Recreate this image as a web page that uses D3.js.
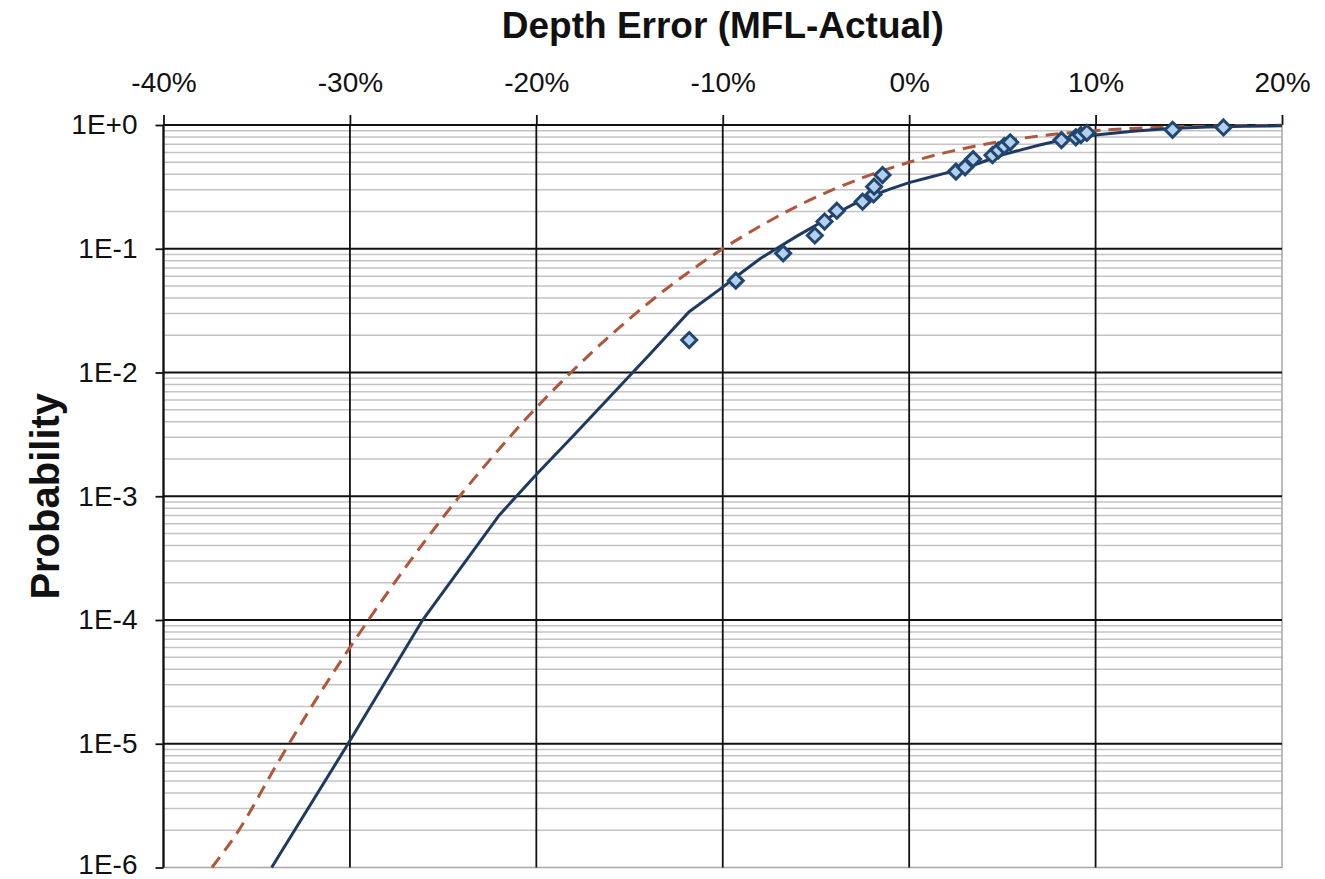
<!DOCTYPE html>
<html>
<head>
<meta charset="utf-8">
<script src="https://cdn.jsdelivr.net/npm/d3@7"></script>
<style>
  body { margin: 0; background: white; }
  text { font-family: "Liberation Sans", Arial, sans-serif; }
</style>
</head>
<body>
<div id="chart"></div>
<script>
// tick values and labels
var xTicks = [-40, -30, -20, -10, 0, 10, 20];
var yTicks = [1, 1e-1, 1e-2, 1e-3, 1e-4, 1e-5, 1e-6];
var yTickLabels = ["1E+0", "1E-1", "1E-2", "1E-3", "1E-4", "1E-5", "1E-6"];

// measured points (depth error %, probability)
var pointX = [-11.8, -9.3, -6.76, -5.06, -4.54, -3.88, -2.50, -1.91, -1.88, -1.43,
              2.51, 3.00, 3.43, 4.47, 4.79, 5.10, 5.42, 8.17, 8.94, 9.21, 9.53, 14.13, 16.86];
var pointP = [0.0183, 0.0552, 0.0918, 0.128, 0.166, 0.203, 0.240, 0.275, 0.317, 0.394,
              0.42, 0.455, 0.53, 0.57, 0.625, 0.675, 0.725, 0.755, 0.795, 0.83, 0.865, 0.915, 0.955];

// fitted curve (solid)
var fitX = [-34.2, -30.1, -26.1, -22.0, -20.0, -18.0, -16.0, -14.0, -11.8, -10.0, -9.0, -8.0, -7.0,
            -6.0, -5.0, -4.0, -3.0, -2.0, -1.0, 0.0, 1.0, 2.0, 3.0, 4.0, 5.0, 6.0, 7.0, 8.0, 9.0,
            10.0, 12.0, 14.0, 16.0, 18.0, 20.0];
var fitP = [1e-6, 1e-5, 1e-4, 7.0e-4, 1.5e-3, 3.1e-3, 6.5e-3, 1.36e-2, 3.1e-2, 4.9e-2, 6.4e-2, 8.3e-2, 0.103,
            0.127, 0.155, 0.19, 0.228, 0.267, 0.305, 0.342, 0.375, 0.41, 0.447, 0.507, 0.573, 0.63, 0.69, 0.745, 0.79,
            0.83, 0.89, 0.935, 0.962, 0.975, 0.985];

// reference curve (dashed)
var refX = [-37.4, -36, -34, -32, -30, -28, -26, -24, -22, -20, -18, -16, -14, -12, -10, -8, -6, -4, -2,
            0, 2, 4, 6, 8, 10, 12, 14, 16, 18, 20];
var refP = [1e-6, 1.96e-6, 6.5e-6, 2.06e-5, 6.0e-5, 1.65e-4, 4.3e-4, 1.05e-3, 2.4e-3, 5.2e-3, 1.05e-2, 2.01e-2,
            3.63e-2, 6.2e-2, 0.1, 0.152, 0.221, 0.304, 0.399, 0.5, 0.601, 0.696, 0.779, 0.848, 0.9, 0.938, 0.964,
            0.98, 0.9895, 0.9948];

function main() {
    var margin = {top: 125, right: 43, bottom: 11.5, left: 163.5},
    width = 1325 - margin.left - margin.right,
    height = 879 - margin.top - margin.bottom;

    var xScale = d3.scaleLinear().domain([-40, 20]).range([0, width]);
    var yScale = d3.scaleLog().domain([1e-6, 1]).range([height, 0]);

    var root = d3.select("#chart").append("svg")
        .attr("width", 1325)
        .attr("height", 879);

    var svg = root.append("g")
        .attr("transform", "translate(" + margin.left + "," + margin.top + ")");

    // minor gridlines 2..9 x 10^k
    var minor = [];
    for (var k = -6; k < 0; k++) {
        for (var m = 2; m <= 9; m++) minor.push(m * Math.pow(10, k));
    }
    svg.append("g")
        .selectAll("line")
        .data(minor)
        .join("line")
        .attr("x1", 0).attr("x2", width)
        .attr("y1", d => yScale(d)).attr("y2", d => yScale(d))
        .attr("stroke", "#c3c3c3")
        .attr("stroke-width", 1.5);

    // plot border (grey)
    svg.append("rect")
        .attr("width", width)
        .attr("height", height)
        .attr("fill", "none")
        .attr("stroke", "#a6a6a6")
        .attr("stroke-width", 1.5);

    // major gridlines
    svg.append("g")
        .selectAll("line")
        .data(yTicks.filter(d => d > 1e-6))
        .join("line")
        .attr("x1", 0).attr("x2", width)
        .attr("y1", d => yScale(d)).attr("y2", d => yScale(d))
        .attr("stroke", "#111")
        .attr("stroke-width", 1.8);

    svg.append("g")
        .selectAll("line")
        .data(xTicks.filter(d => d < 20))
        .join("line")
        .attr("x1", d => xScale(d)).attr("x2", d => xScale(d))
        .attr("y1", 0).attr("y2", height)
        .attr("stroke", "#111")
        .attr("stroke-width", 1.8);

    // axes
    var xAxis = svg.append("g")
        .call(d3.axisTop(xScale).tickValues(xTicks).tickSize(10).tickPadding(23)
            .tickFormat(d => d + "%"));
    var yAxis = svg.append("g")
        .call(d3.axisLeft(yScale).tickValues(yTicks).tickSize(8).tickPadding(18)
            .tickFormat((d, i) => yTickLabels[i]));

    [xAxis, yAxis].forEach(function(a) {
        a.select(".domain").remove();
        a.selectAll("line").attr("stroke", "#111").attr("stroke-width", 1.8);
        a.selectAll("text")
            .attr("fill", "#111")
            .style("font-size", "28px")
            .style("font-family", "'Liberation Sans', Arial, sans-serif");
    });
    // keep the lowest label inside the page
    yAxis.selectAll("text").filter(d => d === 1e-6).attr("dy", "0.2em");

    // axis lines
    svg.append("line").attr("x1", 0).attr("x2", 0).attr("y1", 0).attr("y2", height)
        .attr("stroke", "#111").attr("stroke-width", 1.8);
    svg.append("line").attr("x1", 0).attr("x2", width).attr("y1", 0).attr("y2", 0)
        .attr("stroke", "#111").attr("stroke-width", 1.8);

    // curves
    var line = d3.line()
        .x(d => xScale(d[0]))
        .y(d => yScale(d[1]));

    svg.append("path")
        .datum(refX.map((d, i) => [d, refP[i]]))
        .attr("fill", "none")
        .attr("stroke", "#b0563a")
        .attr("stroke-width", 3)
        .attr("stroke-dasharray", "13,8")
        .attr("d", line.curve(d3.curveMonotoneX));

    svg.append("path")
        .datum(fitX.map((d, i) => [d, fitP[i]]))
        .attr("fill", "none")
        .attr("stroke", "#1f3a60")
        .attr("stroke-width", 3)
        .attr("d", line.curve(d3.curveLinear));

    // diamonds
    svg.append("g")
        .selectAll("path")
        .data(pointX.map((d, i) => [d, pointP[i]]))
        .join("path")
        .attr("transform", d => "translate(" + xScale(d[0]) + "," + yScale(d[1]) + ")")
        .attr("d", "M0,-7.5L7.5,0L0,7.5L-7.5,0Z")
        .attr("fill", "#b4d0ef")
        .attr("stroke", "#21466f")
        .attr("stroke-width", 3);

    // titles
    root.append("text")
        .attr("x", margin.left + width / 2)
        .attr("y", 37.5)
        .attr("text-anchor", "middle")
        .style("font-size", "37px")
        .style("font-weight", "bold")
        .attr("fill", "#111")
        .text("Depth Error (MFL-Actual)");

    root.append("text")
        .attr("transform", "translate(59," + (margin.top + height / 2) + ") rotate(-90)")
        .attr("text-anchor", "middle")
        .style("font-size", "40px")
        .style("font-weight", "bold")
        .attr("fill", "#111")
        .text("Probability");
}
main();
</script>
</body>
</html>
